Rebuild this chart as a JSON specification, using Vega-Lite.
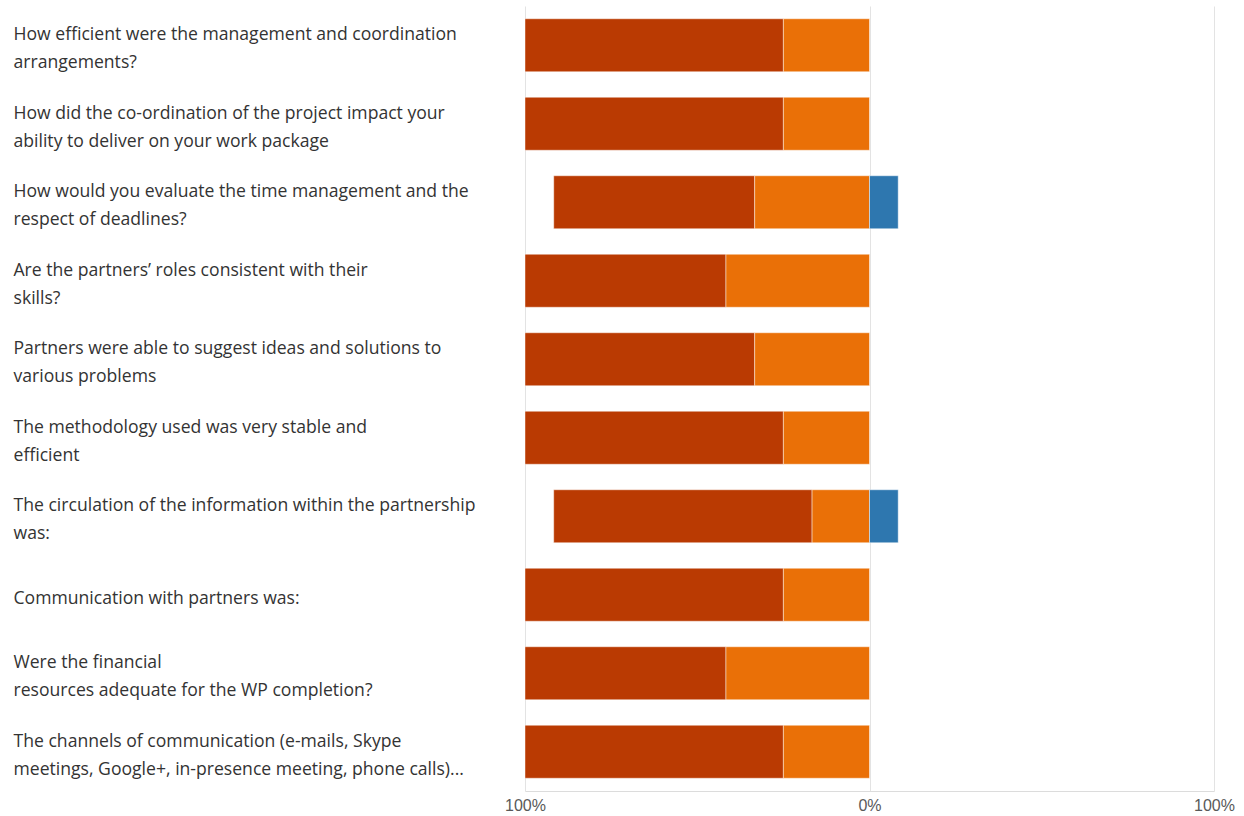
{
  "$schema": "https://vega.github.io/schema/vega-lite/v6.json",
  "autosize": {"type": "none"},
  "padding": {"left": 525, "top": 6, "right": 30, "bottom": 25},
  "width": 689,
  "height": 785,
  "background": "white",
  "config": {
    "view": {"stroke": null},
    "font": "Open Sans"
  },
  "data": {
    "values": [
      {"question": "How efficient were the management and coordination\narrangements?", "answer": "Strongly agree", "share": -75},
      {"question": "How efficient were the management and coordination\narrangements?", "answer": "Agree", "share": -25},
      {"question": "How did the co-ordination of the project impact your\nability to deliver on your work package", "answer": "Strongly agree", "share": -75},
      {"question": "How did the co-ordination of the project impact your\nability to deliver on your work package", "answer": "Agree", "share": -25},
      {"question": "How would you evaluate the time management and the\nrespect of deadlines?", "answer": "Strongly agree", "share": -58.33},
      {"question": "How would you evaluate the time management and the\nrespect of deadlines?", "answer": "Agree", "share": -33.33},
      {"question": "How would you evaluate the time management and the\nrespect of deadlines?", "answer": "Disagree", "share": 8.33},
      {"question": "Are the partners’ roles consistent with their\nskills?", "answer": "Strongly agree", "share": -58.33},
      {"question": "Are the partners’ roles consistent with their\nskills?", "answer": "Agree", "share": -41.67},
      {"question": "Partners were able to suggest ideas and solutions to\nvarious problems", "answer": "Strongly agree", "share": -66.67},
      {"question": "Partners were able to suggest ideas and solutions to\nvarious problems", "answer": "Agree", "share": -33.33},
      {"question": "The methodology used was very stable and\nefficient", "answer": "Strongly agree", "share": -75},
      {"question": "The methodology used was very stable and\nefficient", "answer": "Agree", "share": -25},
      {"question": "The circulation of the information within the partnership\nwas:", "answer": "Strongly agree", "share": -75},
      {"question": "The circulation of the information within the partnership\nwas:", "answer": "Agree", "share": -16.67},
      {"question": "The circulation of the information within the partnership\nwas:", "answer": "Disagree", "share": 8.33},
      {"question": "Communication with partners was:", "answer": "Strongly agree", "share": -75},
      {"question": "Communication with partners was:", "answer": "Agree", "share": -25},
      {"question": "Were the financial\nresources adequate for the WP completion?", "answer": "Strongly agree", "share": -58.33},
      {"question": "Were the financial\nresources adequate for the WP completion?", "answer": "Agree", "share": -41.67},
      {"question": "The channels of communication (e-mails, Skype\nmeetings, Google+, in-presence meeting, phone calls)...", "answer": "Strongly agree", "share": -75},
      {"question": "The channels of communication (e-mails, Skype\nmeetings, Google+, in-presence meeting, phone calls)...", "answer": "Agree", "share": -25}
    ]
  },
  "mark": {"type": "bar", "stroke": "white", "strokeOpacity": 0.45, "strokeWidth": 1},
  "encoding": {
    "y": {
      "field": "question",
      "type": "nominal",
      "sort": null,
      "scale": {"paddingInner": 0.325, "paddingOuter": 0.1625},
      "axis": {
        "title": null,
        "domain": false,
        "ticks": false,
        "grid": false,
        "labelAlign": "left",
        "labelBaseline": "middle",
        "labelPadding": 512,
        "labelLimit": 520,
        "labelFont": "Open Sans",
        "labelFontSize": 17.6,
        "labelLineHeight": 28,
        "labelColor": "#333333",
        "labelOffset": {"condition": {"test": "indexof(datum.value, '\\n') >= 0", "value": -10}, "value": 4},
        "labelExpr": "split(datum.label, '\\n')"
      }
    },
    "x": {
      "field": "share",
      "type": "quantitative",
      "stack": "zero",
      "scale": {"domain": [-100, 100], "nice": false},
      "axis": {
        "title": null,
        "values": [-100, 0, 100],
        "grid": true,
        "gridColor": "#e3e3e3",
        "gridWidth": 1,
        "domain": true,
        "domainColor": "#dcdcdc",
        "ticks": false,
        "labelPadding": 6,
        "labelFont": "Liberation Sans",
        "labelFontSize": 16,
        "labelColor": "#595959",
        "labelOverlap": false,
        "labelFlush": false,
        "labelExpr": "abs(datum.value) + '%'"
      }
    },
    "color": {
      "field": "answer",
      "type": "nominal",
      "scale": {
        "domain": ["Strongly agree", "Agree", "Disagree"],
        "range": ["#BA3A02", "#EA7007", "#2E77AF"]
      },
      "legend": null
    },
    "order": {"field": "answer", "sort": "ascending"}
  }
}
